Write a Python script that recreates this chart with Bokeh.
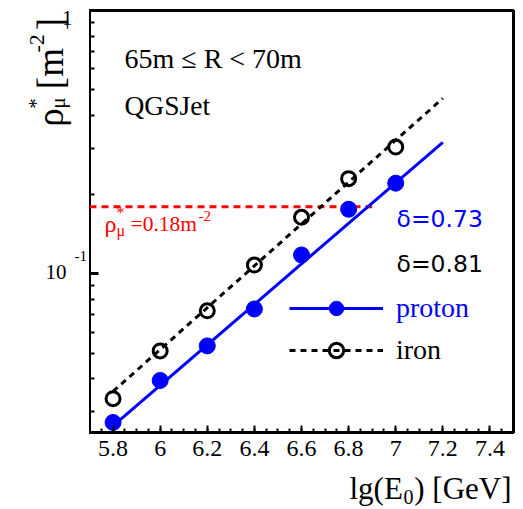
import math
import numpy as np
from bokeh.plotting import figure
from bokeh.layouts import row, column
from bokeh.models import (Label, FixedTicker, CustomJSTickFormatter, Legend, LegendItem, Range1d)
from bokeh.core.properties import value
from bokeh.embed import file_html
from bokeh.resources import INLINE

# ---- data ----
energy = [5.8, 6.0, 6.2, 6.4, 6.6, 6.8, 7.0]
proton = [0.0273, 0.0394, 0.0533, 0.0736, 0.118, 0.176, 0.221]
iron = [0.0336, 0.051, 0.0724, 0.108, 0.164, 0.230, 0.303]
fit_x = [5.8, 7.2]
proton_fit = [0.0265, 0.316]
iron_fit = [0.0358, 0.464]
threshold = 0.18
threshold_x = [5.7, 6.9]
x_ticks = [5.8, 6.0, 6.2, 6.4, 6.6, 6.8, 7.0, 7.2, 7.4]
y_ticks = [1.0, 0.1]
y_tick_text = ["1", "10"]
y_tick_sup = ["", "-1"]

BLUE = "#0000ff"
RED = "#ff0000"
SERIF = "Liberation Serif"
SANS = "DejaVu Sans"

TOTAL_W, TOTAL_H = 523, 509
LW = 89            # left strip width (y labels)
BH = 37            # bottom strip height (x title)
MH = TOTAL_H - BH  # main height
FT, FB = 10, 432   # frame top / bottom (page px)
FR = 513
FL = 90            # approx frame left (page px)
YLO, YHI = 0.025, 1.0
TXT_DY = -10       # empirical baseline correction for alphabetic texts

# ---------------- main plot ----------------
p = figure(width=TOTAL_W - LW, height=MH, x_range=(5.7, 7.5), y_range=(YLO, YHI),
           y_axis_type="log", output_backend="svg", toolbar_location=None, title=None,
           min_border_left=0, min_border_right=TOTAL_W - FR,
           min_border_top=FT, min_border_bottom=MH - FB)
p.grid.visible = False
p.outline_line_color = "black"
p.outline_line_width = 3
p.background_fill_color = "white"
p.border_fill_color = "white"

xminor = list(np.round(np.arange(5.7, 7.5001, 0.05), 2))
p.xaxis.ticker = FixedTicker(ticks=x_ticks, minor_ticks=xminor)
p.xaxis.formatter = CustomJSTickFormatter(code="""
    return (Math.abs(tick - Math.round(tick)) < 1e-9) ? tick.toFixed(0) : tick.toFixed(1);
""")
p.xaxis.major_label_text_font = SERIF
p.xaxis.major_label_text_font_size = "24px"
p.xaxis.major_label_text_color = "black"
p.xaxis.major_label_standoff = 8
p.xaxis.axis_line_color = None
p.xaxis.major_tick_in = 7
p.xaxis.major_tick_out = 0
p.xaxis.minor_tick_in = 4
p.xaxis.minor_tick_out = 0
p.xaxis.major_tick_line_width = 2
p.xaxis.minor_tick_line_width = 2
p.xaxis.major_tick_line_color = "black"
p.xaxis.minor_tick_line_color = "black"

yminor = [m * 10.0 ** e for e in (-2, -1) for m in range(2, 10)]
p.yaxis.ticker = FixedTicker(ticks=y_ticks, minor_ticks=yminor)
p.yaxis.major_label_text_alpha = 0
p.yaxis.major_label_text_font_size = "1px"
p.yaxis.major_label_standoff = 0
p.yaxis.axis_line_color = None
p.yaxis.major_tick_in = 9
p.yaxis.major_tick_out = 0
p.yaxis.minor_tick_in = 5
p.yaxis.minor_tick_out = 0
p.yaxis.major_tick_line_width = 3
p.yaxis.minor_tick_line_width = 2
p.yaxis.major_tick_line_color = "black"
p.yaxis.minor_tick_line_color = "black"

p.line(threshold_x, [threshold, threshold], line_color=RED, line_width=3, line_dash="7 5")
pl = p.line(fit_x, proton_fit, line_color=BLUE, line_width=3)
il = p.line(fit_x, iron_fit, line_color="black", line_width=3, line_dash="6 5")
ps = p.scatter(energy, proton, marker="circle", size=16, fill_color=BLUE, line_color=BLUE)
isc = p.scatter(energy, iron, marker="circle", size=14, fill_color=None,
                line_color="black", line_width=3)


def make_legend(label, rends, color, center_y):
    lg = Legend(items=[LegendItem(label=label, renderers=rends)],
                location=(290 - FL, FB - (center_y + 18)), orientation="vertical",
                glyph_width=94, glyph_height=36, label_height=36, spacing=0,
                padding=0, margin=0, label_standoff=13,
                border_line_color=None, background_fill_alpha=0,
                label_text_font=SERIF, label_text_font_size="28px",
                label_text_color=color)
    p.add_layout(lg, "center")


make_legend("proton", [pl, ps], BLUE, 308)
make_legend("iron", [il, isc], "black", 350)


def lab(text, px, py, size, color="black", font=SERIF, align="left"):
    p.add_layout(Label(x=px - FL, y=FB - (py + TXT_DY), x_units="screen", y_units="screen",
                       text=text, text_font=font, text_font_size=f"{size}px",
                       text_color=color, text_align=align, text_baseline="alphabetic"))


lab("65m \u2264 R < 70m", 125, 68, 28)
lab("QGSJet", 125, 115, 27.5)

lab("\u03c1", 105, 233, 24, RED)
lab("*", 117, 222, 16, RED)
lab("\u03bc", 117, 240, 16, RED)
lab("=0.18m", 131, 233, 21.5, RED)
lab("-2", 199, 225, 15, RED)

lab("\u03b4=0.73", 397, 228, 23.5, BLUE, SANS)
lab("\u03b4=0.81", 397, 273, 23.5, "black", SANS)

# ---------------- left strip: y tick labels + y title (pixel coordinates) ----------------
D = (FB - FT) / math.log10(YHI / YLO)          # px per decade of the main frame
tick_py = [FT + math.log10(YHI / v) * D for v in y_ticks]
tick_dy = [-1, 17]
sup_dy = [0, 1]

lf = figure(width=LW, height=MH, x_range=Range1d(0, LW), y_range=Range1d(MH, 0),
            output_backend="svg", toolbar_location=None, title=None,
            x_axis_location=None, y_axis_location=None, min_border=0)
lf.grid.visible = False
lf.outline_line_color = None
lf.background_fill_color = "white"
lf.border_fill_color = "white"

lf.text(x=[72, 66], y=tick_py, text=y_tick_text, y_offset=tick_dy,
        text_font=value(SERIF), text_font_size=value("21px"), text_color="black",
        text_align="right", text_baseline="middle")
lf.text(x=[74, 74], y=tick_py, text=y_tick_sup, y_offset=sup_dy,
        text_font=value(SERIF), text_font_size=value("15px"), text_color="black",
        text_align="left", text_baseline="middle")

A = math.pi / 2
title_parts = ["\u03c1", "*", "\u03bc", "[m", "-2", "]"]
title_x = [50, 35, 57, 50, 36, 50]
title_y = [130, 110, 110, 88, 47, 22]
title_size = ["37px", "21px", "21px", "37px", "22px", "37px"]
lf.text(x=title_x, y=title_y, text=title_parts, angle=A,
        text_font=value(SERIF), text_font_size=title_size, text_color="black",
        text_align="left", text_baseline="alphabetic")

# ---------------- bottom strip: x title ----------------
bf = figure(width=TOTAL_W, height=BH, x_range=Range1d(0, TOTAL_W), y_range=Range1d(BH, 0),
            output_backend="svg", toolbar_location=None, title=None,
            x_axis_location=None, y_axis_location=None, min_border=0)
bf.grid.visible = False
bf.outline_line_color = None
bf.background_fill_color = "white"
bf.border_fill_color = "white"
bf.text(x=[349, 403], y=[498 + TXT_DY - MH, 506 + TXT_DY - MH], text=["lg(E", "0"],
        text_font=value(SERIF), text_font_size=["31px", "20px"], text_color="black",
        text_align="left", text_baseline="alphabetic")
bf.text(x=[511], y=[498 + TXT_DY - MH], text=[") [GeV]"],
        text_font=value(SERIF), text_font_size=value("31px"), text_color="black",
        text_align="right", text_baseline="alphabetic")

layout = column(row(lf, p, spacing=0), bf, spacing=0)
open("out.html", "w").write(file_html(layout, INLINE))
